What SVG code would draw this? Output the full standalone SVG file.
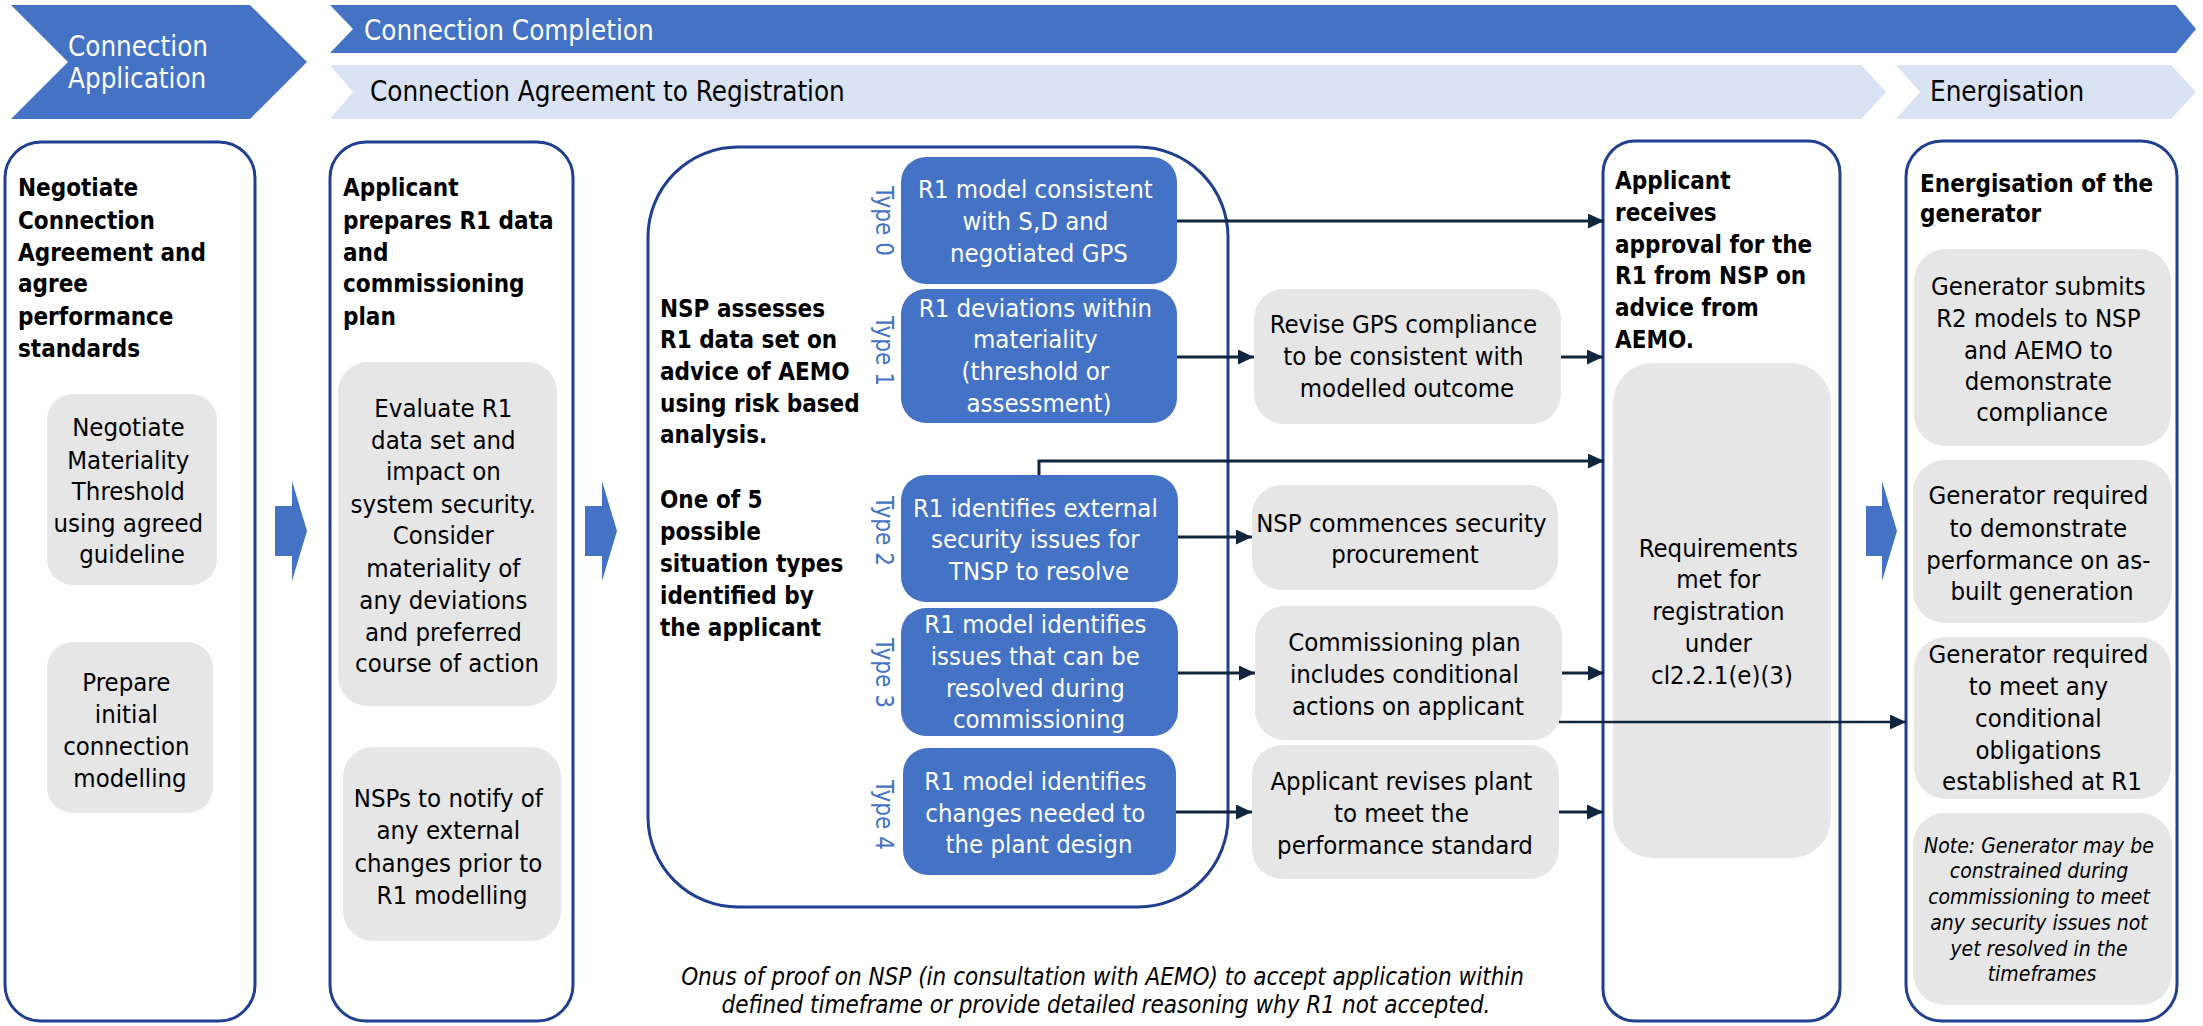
<svg xmlns="http://www.w3.org/2000/svg" width="2203" height="1026" viewBox="0 0 2203 1026">
  <style>
    text { font-family: "DejaVu Sans Condensed", "DejaVu Sans", sans-serif; font-stretch: condensed; }
    .hdr { font-size: 27.5px; }
    .w { fill: #ffffff; }
    .k { fill: #000000; }
    .b { font-size: 24px; font-weight: bold; fill: #000000; }
    .r { font-size: 25.5px; fill: #000000; text-anchor: middle; }
    .rw { font-size: 25.5px; fill: #ffffff; text-anchor: middle; }
    .note { font-size: 21px; font-style: italic; fill: #000000; text-anchor: middle; }
    .onus { font-size: 24px; font-style: italic; fill: #000000; text-anchor: middle; }
    .type { font-size: 24px; fill: #4472C4; text-anchor: middle; }
    .col { fill: #ffffff; stroke: #203F93; stroke-width: 3; }
    .grey { fill: #E6E6E6; }
    .blue { fill: #4472C4; }
    .dark { fill: #4472C4; }
    .light { fill: #DAE3F3; }
    .conn { fill: none; stroke: #10263F; stroke-width: 3; }
    .thin { fill: none; stroke: #10263F; stroke-width: 2.5; }
    .bigarrow { fill: #4472C4; }
  </style>
  <defs>
    <marker id="ah" markerUnits="userSpaceOnUse" markerWidth="16" markerHeight="15" refX="16" refY="7.5" orient="auto">
      <path d="M0,0 L16,7.5 L0,15 Z" fill="#10263F"/>
    </marker>
  </defs>

  <!-- phase banners -->
  <g id="phase-application">
    <polygon class="dark" points="11,5 250,5 307,62 250,119 11,119 68,62"/>
    <text class="hdr w" x="68" y="56">Connection</text>
    <text class="hdr w" x="68" y="88">Application</text>
  </g>
  <g id="phase-completion">
    <polygon class="dark" points="330,5 2176,5 2196,29 2176,53 330,53 353,29"/>
    <text class="hdr w" x="364" y="40">Connection Completion</text>
  </g>
  <g id="phase-agreement">
    <polygon class="light" points="330,65 1861,65 1886,92 1861,119 330,119 353,92"/>
    <text class="hdr k" x="370" y="101">Connection Agreement to Registration</text>
  </g>
  <g id="phase-energisation">
    <polygon class="light" points="1896,65 2171,65 2196,92 2171,119 1896,119 1920,92"/>
    <text class="hdr k" x="1930" y="101">Energisation</text>
  </g>

  <!-- column 1 -->
  <g id="col-negotiate">
    <rect class="col" x="5" y="142" width="250" height="879" rx="36" ry="36"/>
    <text class="b">
      <tspan x="18" y="196">Negotiate</tspan>
      <tspan x="18" y="229">Connection</tspan>
      <tspan x="18" y="261">Agreement and</tspan>
      <tspan x="18" y="292">agree</tspan>
      <tspan x="18" y="325">performance</tspan>
      <tspan x="18" y="357">standards</tspan>
    </text>
  </g>
  <g id="box-materiality">
    <rect class="grey" x="47" y="394" width="170" height="191" rx="26"/>
    <text class="r">
      <tspan x="132" y="436">Negotiate</tspan>
      <tspan x="132" y="469">Materiality</tspan>
      <tspan x="132" y="500">Threshold</tspan>
      <tspan x="132" y="532">using agreed</tspan>
      <tspan x="132" y="563">guideline</tspan>
    </text>
  </g>
  <g id="box-initial-modelling">
    <rect class="grey" x="47" y="642" width="166" height="171" rx="26"/>
    <text class="r">
      <tspan x="130" y="691">Prepare</tspan>
      <tspan x="130" y="723">initial</tspan>
      <tspan x="130" y="755">connection</tspan>
      <tspan x="130" y="787">modelling</tspan>
    </text>
  </g>

  <!-- column 2 -->
  <g id="col-applicant">
    <rect class="col" x="330" y="142" width="243" height="879" rx="36" ry="36"/>
    <text class="b">
      <tspan x="343" y="196">Applicant</tspan>
      <tspan x="343" y="229">prepares R1 data</tspan>
      <tspan x="343" y="261">and</tspan>
      <tspan x="343" y="292">commissioning</tspan>
      <tspan x="343" y="325">plan</tspan>
    </text>
  </g>
  <g id="box-evaluate">
    <rect class="grey" x="338" y="362" width="219" height="344" rx="30"/>
    <text class="r">
      <tspan x="447" y="417">Evaluate R1</tspan>
      <tspan x="447" y="449">data set and</tspan>
      <tspan x="447" y="480">impact on</tspan>
      <tspan x="447" y="513">system security.</tspan>
      <tspan x="447" y="544">Consider</tspan>
      <tspan x="447" y="577">materiality of</tspan>
      <tspan x="447" y="609">any deviations</tspan>
      <tspan x="447" y="641">and preferred</tspan>
      <tspan x="447" y="672">course of action</tspan>
    </text>
  </g>
  <g id="box-nsp-notify">
    <rect class="grey" x="343" y="747" width="218" height="194" rx="30"/>
    <text class="r">
      <tspan x="452" y="807">NSPs to notify of</tspan>
      <tspan x="452" y="839">any external</tspan>
      <tspan x="452" y="872">changes prior to</tspan>
      <tspan x="452" y="904">R1 modelling</tspan>
    </text>
  </g>

  <!-- column 3 -->
  <g id="col-assess">
    <rect class="col" x="648" y="147" width="580" height="760" rx="90" ry="90"/>
    <text class="b">
      <tspan x="660" y="317">NSP assesses</tspan>
      <tspan x="660" y="348">R1 data set on</tspan>
      <tspan x="660" y="380">advice of AEMO</tspan>
      <tspan x="660" y="412">using risk based</tspan>
      <tspan x="660" y="443">analysis.</tspan>
      <tspan x="660" y="508">One of 5</tspan>
      <tspan x="660" y="540">possible</tspan>
      <tspan x="660" y="572">situation types</tspan>
      <tspan x="660" y="604">identified by</tspan>
      <tspan x="660" y="636">the applicant</tspan>
    </text>
  </g>
  <g id="type-0">
    <text class="type" transform="translate(876,221) rotate(90)">Type 0</text>
    <rect class="blue" x="901" y="157" width="276" height="127" rx="25"/>
    <text class="rw">
      <tspan x="1039" y="198">R1 model consistent</tspan>
      <tspan x="1039" y="230">with S,D and</tspan>
      <tspan x="1039" y="262">negotiated GPS</tspan>
    </text>
  </g>
  <g id="type-1">
    <text class="type" transform="translate(876,351) rotate(90)">Type 1</text>
    <rect class="blue" x="901" y="289" width="276" height="134" rx="25"/>
    <text class="rw">
      <tspan x="1039" y="317">R1 deviations within</tspan>
      <tspan x="1039" y="348">materiality</tspan>
      <tspan x="1039" y="380">(threshold or</tspan>
      <tspan x="1039" y="412">assessment)</tspan>
    </text>
  </g>
  <g id="type-2">
    <text class="type" transform="translate(876,531) rotate(90)">Type 2</text>
    <rect class="blue" x="901" y="475" width="277" height="127" rx="25"/>
    <text class="rw">
      <tspan x="1039" y="517">R1 identifies external</tspan>
      <tspan x="1039" y="548">security issues for</tspan>
      <tspan x="1039" y="580">TNSP to resolve</tspan>
    </text>
  </g>
  <g id="type-3">
    <text class="type" transform="translate(876,673) rotate(90)">Type 3</text>
    <rect class="blue" x="901" y="608" width="277" height="128" rx="25"/>
    <text class="rw">
      <tspan x="1039" y="633">R1 model identifies</tspan>
      <tspan x="1039" y="665">issues that can be</tspan>
      <tspan x="1039" y="697">resolved during</tspan>
      <tspan x="1039" y="728">commissioning</tspan>
    </text>
  </g>
  <g id="type-4">
    <text class="type" transform="translate(876,815) rotate(90)">Type 4</text>
    <rect class="blue" x="903" y="748" width="273" height="127" rx="25"/>
    <text class="rw">
      <tspan x="1039" y="790">R1 model identifies</tspan>
      <tspan x="1039" y="822">changes needed to</tspan>
      <tspan x="1039" y="853">the plant design</tspan>
    </text>
  </g>

  <!-- outcome boxes -->
  <g id="box-revise-gps">
    <rect class="grey" x="1254" y="289" width="307" height="135" rx="30"/>
    <text class="r">
      <tspan x="1407" y="333">Revise GPS compliance</tspan>
      <tspan x="1407" y="365">to be consistent with</tspan>
      <tspan x="1407" y="397">modelled outcome</tspan>
    </text>
  </g>
  <g id="box-security-procurement">
    <rect class="grey" x="1252" y="485" width="306" height="105" rx="30"/>
    <text class="r">
      <tspan x="1405" y="532">NSP commences security</tspan>
      <tspan x="1405" y="563">procurement</tspan>
    </text>
  </g>
  <g id="box-commissioning-plan">
    <rect class="grey" x="1255" y="606" width="307" height="134" rx="30"/>
    <text class="r">
      <tspan x="1408" y="651">Commissioning plan</tspan>
      <tspan x="1408" y="683">includes conditional</tspan>
      <tspan x="1408" y="715">actions on applicant</tspan>
    </text>
  </g>
  <g id="box-revise-plant">
    <rect class="grey" x="1252" y="745" width="307" height="134" rx="30"/>
    <text class="r">
      <tspan x="1405" y="790">Applicant revises plant</tspan>
      <tspan x="1405" y="822">to meet the</tspan>
      <tspan x="1405" y="854">performance standard</tspan>
    </text>
  </g>

  <!-- column 4 -->
  <g id="col-approval">
    <rect class="col" x="1603" y="141" width="237" height="880" rx="32" ry="32"/>
    <text class="b">
      <tspan x="1615" y="189">Applicant</tspan>
      <tspan x="1615" y="221">receives</tspan>
      <tspan x="1615" y="253">approval for the</tspan>
      <tspan x="1615" y="284">R1 from NSP on</tspan>
      <tspan x="1615" y="316">advice from</tspan>
      <tspan x="1615" y="348">AEMO.</tspan>
    </text>
  </g>
  <g id="box-requirements">
    <rect class="grey" x="1613" y="363" width="218" height="495" rx="40"/>
    <text class="r">
      <tspan x="1722" y="557">Requirements</tspan>
      <tspan x="1722" y="588">met for</tspan>
      <tspan x="1722" y="620">registration</tspan>
      <tspan x="1722" y="652">under</tspan>
      <tspan x="1722" y="684">cl2.2.1(e)(3)</tspan>
    </text>
  </g>

  <!-- column 5 -->
  <g id="col-energisation">
    <rect class="col" x="1906" y="141" width="271" height="880" rx="36" ry="36"/>
    <text class="b">
      <tspan x="1920" y="192">Energisation of the</tspan>
      <tspan x="1920" y="222">generator</tspan>
    </text>
  </g>
  <g id="box-r2-models">
    <rect class="grey" x="1914" y="249" width="257" height="197" rx="32"/>
    <text class="r">
      <tspan x="2042" y="295">Generator submits</tspan>
      <tspan x="2042" y="327">R2 models to NSP</tspan>
      <tspan x="2042" y="359">and AEMO to</tspan>
      <tspan x="2042" y="390">demonstrate</tspan>
      <tspan x="2042" y="421">compliance</tspan>
    </text>
  </g>
  <g id="box-as-built">
    <rect class="grey" x="1913" y="460" width="259" height="163" rx="32"/>
    <text class="r">
      <tspan x="2042" y="504">Generator required</tspan>
      <tspan x="2042" y="537">to demonstrate</tspan>
      <tspan x="2042" y="569">performance on as-</tspan>
      <tspan x="2042" y="600">built generation</tspan>
    </text>
  </g>
  <g id="box-conditional">
    <rect class="grey" x="1914" y="637" width="257" height="162" rx="32"/>
    <text class="r">
      <tspan x="2042" y="663">Generator required</tspan>
      <tspan x="2042" y="695">to meet any</tspan>
      <tspan x="2042" y="727">conditional</tspan>
      <tspan x="2042" y="759">obligations</tspan>
      <tspan x="2042" y="790">established at R1</tspan>
    </text>
  </g>
  <g id="box-note">
    <rect class="grey" x="1913" y="813" width="259" height="192" rx="32"/>
    <text class="note">
      <tspan x="2042" y="853">Note: Generator may be</tspan>
      <tspan x="2042" y="878">constrained during</tspan>
      <tspan x="2042" y="904">commissioning to meet</tspan>
      <tspan x="2042" y="930">any security issues not</tspan>
      <tspan x="2042" y="956">yet resolved in the</tspan>
      <tspan x="2042" y="981">timeframes</tspan>
    </text>
  </g>

  <!-- stage arrows -->
  <g id="stage-arrows">
    <polygon class="bigarrow" points="275,506 292,506 292,481 307,531 292,581 292,556 275,556"/>
    <polygon class="bigarrow" points="585,506 602,506 602,481 617,531 602,581 602,556 585,556"/>
    <polygon class="bigarrow" points="1866,506 1882,506 1882,481 1897,531 1882,581 1882,556 1866,556"/>
  </g>

  <!-- connectors -->
  <g id="connectors">
    <path class="conn" d="M1177,221 H1604" marker-end="url(#ah)"/>
    <path class="conn" d="M1177,357 H1254" marker-end="url(#ah)"/>
    <path class="conn" d="M1561,357 H1603" marker-end="url(#ah)"/>
    <path class="conn" d="M1039,475 V461 H1604" marker-end="url(#ah)"/>
    <path class="conn" d="M1178,537 H1252" marker-end="url(#ah)"/>
    <path class="conn" d="M1178,673 H1255" marker-end="url(#ah)"/>
    <path class="conn" d="M1562,673 H1604" marker-end="url(#ah)"/>
    <path class="thin" d="M1559,722 H1906" marker-end="url(#ah)"/>
    <path class="conn" d="M1176,812 H1252" marker-end="url(#ah)"/>
    <path class="conn" d="M1559,812 H1603" marker-end="url(#ah)"/>
  </g>

  <!-- footnote -->
  <g id="footnote">
    <text class="onus">
      <tspan x="1106" y="985">Onus of proof on NSP (in consultation with AEMO) to accept application within</tspan>
      <tspan x="1106" y="1013">defined timeframe or provide detailed reasoning why R1 not accepted.</tspan>
    </text>
  </g>
</svg>
